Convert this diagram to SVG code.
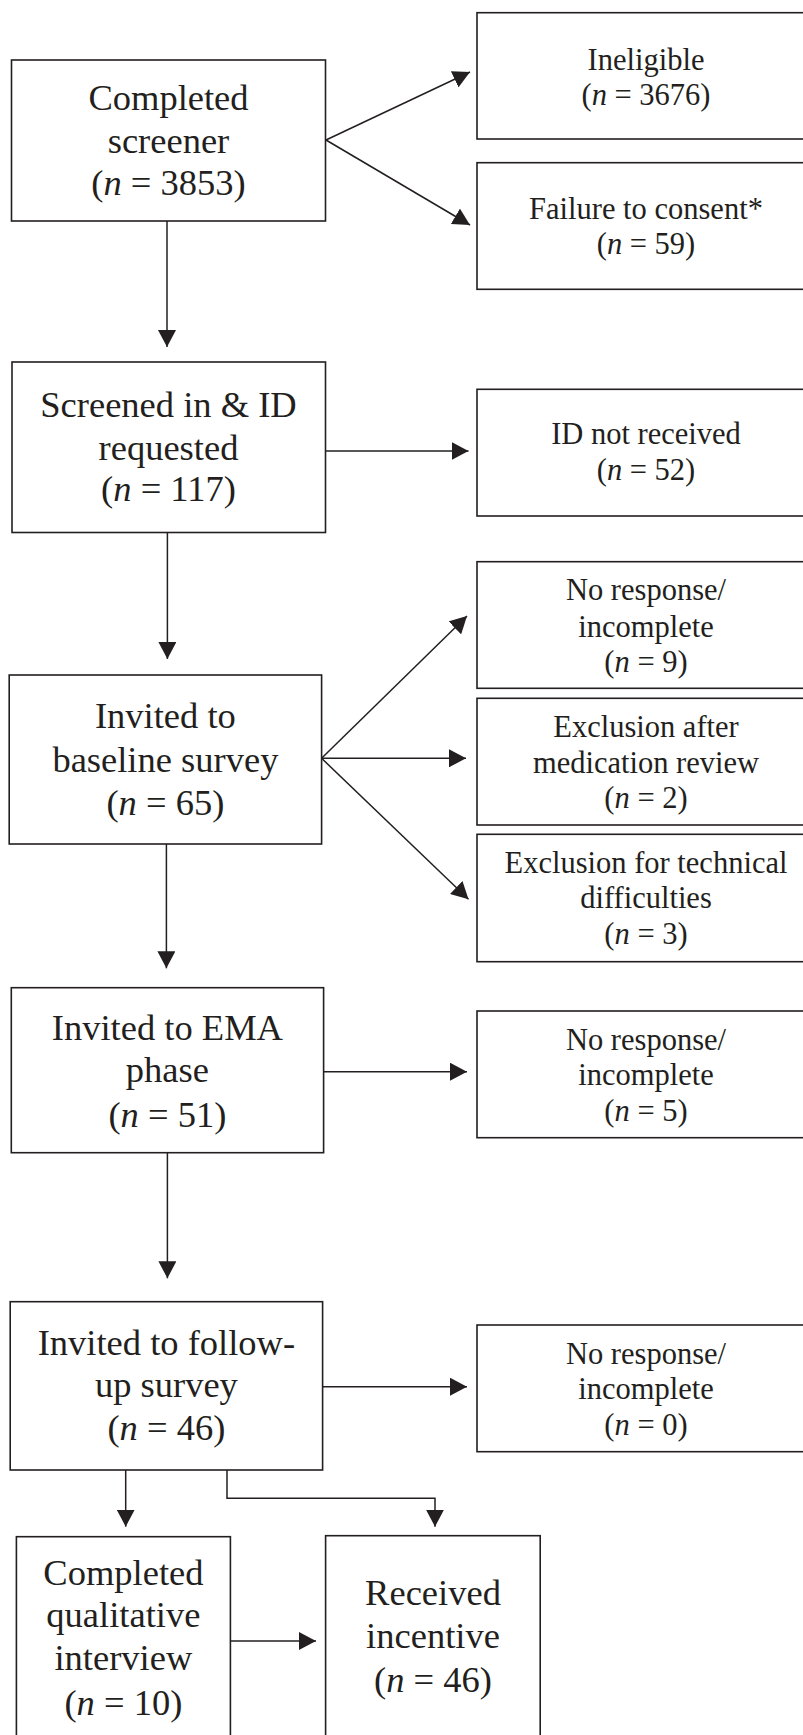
<svg xmlns="http://www.w3.org/2000/svg" width="803" height="1735" viewBox="0 0 803 1735">
<style>
  .box { fill: #ffffff; stroke: #231f20; stroke-width: 1.6; }
  .main { font-family: "Liberation Serif", "Times New Roman", serif; font-size: 36.5px; fill: #231f20; text-anchor: middle; }
  .side { font-family: "Liberation Serif", "Times New Roman", serif; font-size: 30.5px; fill: #231f20; text-anchor: middle; }
  .conn { fill: none; stroke: #231f20; stroke-width: 1.5; marker-end: url(#arrow); }
  .it { font-style: italic; }
</style>
<defs>
  <marker id="arrow" markerUnits="userSpaceOnUse" markerWidth="18" markerHeight="18" viewBox="0 0 18 18" refX="17" refY="9" orient="auto">
    <path d="M0,0 L17,9 L0,18 z" fill="#231f20"/>
  </marker>
</defs>
<rect width="803" height="1735" fill="#ffffff"/>

<g id="connectors">
  <line class="conn" x1="326" y1="140" x2="470" y2="72"/>
  <line class="conn" x1="326" y1="140" x2="470" y2="225"/>
  <line class="conn" x1="167" y1="221" x2="167" y2="347"/>
  <line class="conn" x1="325.5" y1="451" x2="468.5" y2="451"/>
  <line class="conn" x1="167.4" y1="532.5" x2="167.4" y2="659"/>
  <line class="conn" x1="321.6" y1="758.3" x2="467" y2="616"/>
  <line class="conn" x1="321.6" y1="758.3" x2="466" y2="758.3"/>
  <line class="conn" x1="321.6" y1="758.3" x2="468.5" y2="899.3"/>
  <line class="conn" x1="166.4" y1="844" x2="166.4" y2="968.3"/>
  <line class="conn" x1="323.6" y1="1071.7" x2="467" y2="1071.7"/>
  <line class="conn" x1="167.4" y1="1152.7" x2="167.4" y2="1278.3"/>
  <line class="conn" x1="322.6" y1="1386.7" x2="467" y2="1386.7"/>
  <line class="conn" x1="125.7" y1="1470" x2="125.7" y2="1526.7"/>
  <polyline class="conn" points="227,1470 227,1498.3 435,1498.3 435,1526.7"/>
  <line class="conn" x1="230.4" y1="1641" x2="316" y2="1641"/>
</g>

<g id="completed-screener">
  <rect class="box" x="11.5" y="60" width="314" height="161"/>
  <text class="main" x="168.5" y="110">Completed</text>
  <text class="main" x="168.5" y="152.5">screener</text>
  <text class="main" x="168.5" y="195">(<tspan class="it">n</tspan> = 3853)</text>
</g>

<g id="ineligible">
  <rect class="box" x="477" y="12.7" width="340" height="126.3"/>
  <text class="side" x="646" y="70">Ineligible</text>
  <text class="side" x="646" y="105">(<tspan class="it">n</tspan> = 3676)</text>
</g>

<g id="failure-consent">
  <rect class="box" x="477" y="162.7" width="340" height="126.6"/>
  <text class="side" x="646" y="218.5">Failure to consent*</text>
  <text class="side" x="646" y="253.5">(<tspan class="it">n</tspan> = 59)</text>
</g>

<g id="screened-in">
  <rect class="box" x="12" y="362" width="313.5" height="170.5"/>
  <text class="main" x="168.5" y="417">Screened in &amp; ID</text>
  <text class="main" x="168.5" y="459.5">requested</text>
  <text class="main" x="168.5" y="501">(<tspan class="it">n</tspan> = 117)</text>
</g>

<g id="id-not-received">
  <rect class="box" x="477" y="389.3" width="340" height="126.7"/>
  <text class="side" x="646" y="444">ID not received</text>
  <text class="side" x="646" y="480">(<tspan class="it">n</tspan> = 52)</text>
</g>

<g id="baseline-survey">
  <rect class="box" x="9.2" y="675" width="312.4" height="169"/>
  <text class="main" x="165.4" y="728">Invited to</text>
  <text class="main" x="165.4" y="771.5">baseline survey</text>
  <text class="main" x="165.4" y="815">(<tspan class="it">n</tspan> = 65)</text>
</g>

<g id="no-response-9">
  <rect class="box" x="477" y="561.7" width="340" height="126.6"/>
  <text class="side" x="646" y="600">No response/</text>
  <text class="side" x="646" y="636.5">incomplete</text>
  <text class="side" x="646" y="672">(<tspan class="it">n</tspan> = 9)</text>
</g>

<g id="exclusion-medication">
  <rect class="box" x="477" y="698.3" width="340" height="126.7"/>
  <text class="side" x="646" y="737">Exclusion after</text>
  <text class="side" x="646" y="772.5">medication review</text>
  <text class="side" x="646" y="807.5">(<tspan class="it">n</tspan> = 2)</text>
</g>

<g id="exclusion-technical">
  <rect class="box" x="477" y="834.3" width="340" height="127.4"/>
  <text class="side" x="646" y="872.5">Exclusion for technical</text>
  <text class="side" x="646" y="908">difficulties</text>
  <text class="side" x="646" y="943.5">(<tspan class="it">n</tspan> = 3)</text>
</g>

<g id="ema-phase">
  <rect class="box" x="11.3" y="987.7" width="312.3" height="165"/>
  <text class="main" x="167.4" y="1039.5">Invited to EMA</text>
  <text class="main" x="167.4" y="1082">phase</text>
  <text class="main" x="167.4" y="1126.5">(<tspan class="it">n</tspan> = 51)</text>
</g>

<g id="no-response-5">
  <rect class="box" x="477" y="1011" width="340" height="126.7"/>
  <text class="side" x="646" y="1049.5">No response/</text>
  <text class="side" x="646" y="1085">incomplete</text>
  <text class="side" x="646" y="1120.5">(<tspan class="it">n</tspan> = 5)</text>
</g>

<g id="follow-up-survey">
  <rect class="box" x="10.2" y="1301.7" width="312.4" height="168.3"/>
  <text class="main" x="166.4" y="1355">Invited to follow-</text>
  <text class="main" x="166.4" y="1397">up survey</text>
  <text class="main" x="166.4" y="1440">(<tspan class="it">n</tspan> = 46)</text>
</g>

<g id="no-response-0">
  <rect class="box" x="477" y="1325" width="340" height="126.7"/>
  <text class="side" x="646" y="1363.5">No response/</text>
  <text class="side" x="646" y="1399">incomplete</text>
  <text class="side" x="646" y="1435">(<tspan class="it">n</tspan> = 0)</text>
</g>

<g id="qualitative-interview">
  <rect class="box" x="16.4" y="1536.7" width="214" height="210"/>
  <text class="main" x="123.4" y="1585">Completed</text>
  <text class="main" x="123.4" y="1627">qualitative</text>
  <text class="main" x="123.4" y="1669.5">interview</text>
  <text class="main" x="123.4" y="1715">(<tspan class="it">n</tspan> = 10)</text>
</g>

<g id="received-incentive">
  <rect class="box" x="325.6" y="1535.7" width="214.6" height="211"/>
  <text class="main" x="433" y="1605">Received</text>
  <text class="main" x="433" y="1647.5">incentive</text>
  <text class="main" x="433" y="1691.5">(<tspan class="it">n</tspan> = 46)</text>
</g>
</svg>
